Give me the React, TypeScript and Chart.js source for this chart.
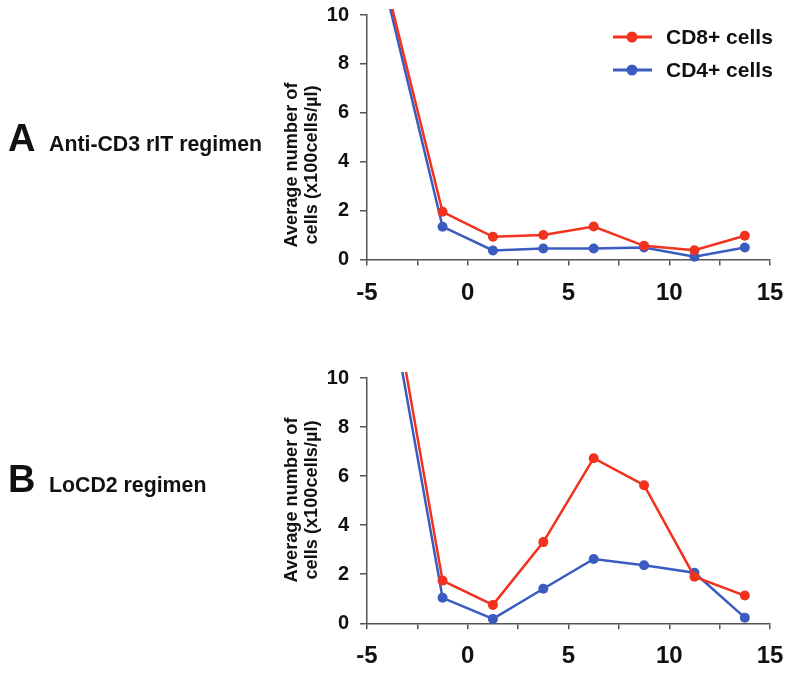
import React, { useEffect, useRef } from "react";
import { Chart, registerables } from "chart.js";
Chart.register(...registerables);

// ---- data ----
const X_DAYS = [-6.25, -1.25, 1.25, 3.75, 6.25, 8.75, 11.25, 13.75];
const A_CD8 = [18.6, 1.95, 0.93, 1.0, 1.35, 0.56, 0.38, 0.97];
const A_CD4 = [18.5, 1.34, 0.37, 0.45, 0.45, 0.49, 0.11, 0.49];
const B_CD8 = [25.2, 1.74, 0.75, 3.31, 6.73, 5.63, 1.9, 1.13];
const B_CD4 = [24.1, 1.04, 0.18, 1.41, 2.62, 2.37, 2.06, 0.23];
const SERIES_NAMES = ["CD8+ cells", "CD4+ cells"];
const X_LABELED_TICKS = [-5, 0, 5, 10, 15];
const PANEL_LETTERS = ["A", "B"];
const PANEL_TITLES = ["Anti-CD3 rIT regimen", "LoCD2 regimen"];
const Y_TITLE = ["Average number of", "cells (x100cells/µl)"];

const RED = "#f0321f";
const BLUE = "#3a5cc0";
const AXIS = "#555555";
const FONT = "'Liberation Sans', Arial, Helvetica, sans-serif";

type PanelCfg = {
  idx: number;
  cd8: number[];
  cd4: number[];
  height: number;
  padBottom: number;
  labelBaseline: number;
  yTitleCenter: number;
  legend: boolean;
};

function toPts(vals: number[]) {
  return X_DAYS.map((x, i) => ({ x, y: vals[i] }));
}

function makeChart(canvas: HTMLCanvasElement, p: PanelCfg) {
  const decor = {
    id: "decor" + p.idx,
    afterDraw(chart: any) {
      const ctx = chart.ctx as CanvasRenderingContext2D;
      ctx.save();
      ctx.fillStyle = "#111";
      ctx.textBaseline = "alphabetic";
      ctx.textAlign = "left";
      ctx.font = `bold 38px ${FONT}`;
      ctx.fillText(PANEL_LETTERS[p.idx], 8, p.labelBaseline);
      ctx.font = `bold 21.3px ${FONT}`;
      ctx.fillText(PANEL_TITLES[p.idx], 49, p.labelBaseline);

      // y-axis title (two rotated lines)
      ctx.font = `bold 18.2px ${FONT}`;
      ctx.textAlign = "center";
      ctx.textBaseline = "middle";
      const xs = [292, 312];
      Y_TITLE.forEach((t, i) => {
        ctx.save();
        ctx.translate(xs[i], p.yTitleCenter);
        ctx.rotate(-Math.PI / 2);
        ctx.fillText(t, 0, 0);
        ctx.restore();
      });

      if (p.legend) {
        const colors = [RED, BLUE];
        const ys = [37, 70];
        SERIES_NAMES.forEach((name, i) => {
          ctx.strokeStyle = colors[i];
          ctx.lineWidth = 3;
          ctx.beginPath();
          ctx.moveTo(613, ys[i]);
          ctx.lineTo(652, ys[i]);
          ctx.stroke();
          ctx.fillStyle = colors[i];
          ctx.beginPath();
          ctx.arc(632, ys[i], 5.5, 0, Math.PI * 2);
          ctx.fill();
          ctx.fillStyle = "#111";
          ctx.textAlign = "left";
          ctx.textBaseline = "middle";
          ctx.font = `bold 21px ${FONT}`;
          ctx.fillText(name, 666, ys[i] + 1);
        });
      }
      ctx.restore();
    },
  };

  const ds = (label: string, vals: number[], color: string) => ({
    label,
    data: toPts(vals),
    borderColor: color,
    backgroundColor: color,
    pointBackgroundColor: color,
    pointBorderColor: color,
    pointBorderWidth: 0,
    pointRadius: 5,
    borderWidth: 2.5,
    tension: 0,
    clip: { left: 0, top: 6, right: 10, bottom: 10 },
  });

  return new Chart(canvas, {
    type: "line",
    data: {
      datasets: [ds(SERIES_NAMES[0], p.cd8, RED), ds(SERIES_NAMES[1], p.cd4, BLUE)],
    },
    options: {
      animation: false,
      responsive: false,
      devicePixelRatio: 1,
      layout: { padding: { left: 275, right: 30, top: 15, bottom: p.padBottom } },
      plugins: { legend: { display: false }, tooltip: { enabled: false } },
      scales: {
        x: {
          type: "linear",
          min: -5,
          max: 15,
          afterFit: (s: any) => {
            s.height = 45;
            s.paddingLeft = 0;
            s.paddingRight = 0;
          },
          ticks: {
            stepSize: 2.5,
            autoSkip: false,
            maxRotation: 0,
            padding: 13,
            color: "#111",
            font: { family: FONT, size: 24, weight: "bold" },
            callback: (v: any) => (X_LABELED_TICKS.includes(Number(v)) ? String(v) : ""),
          },
          grid: { drawOnChartArea: false, drawTicks: true, tickLength: 6, color: AXIS, lineWidth: 1.5 },
          border: { display: true, color: AXIS, width: 1.5 },
        },
        y: {
          type: "linear",
          min: 0,
          max: 10,
          afterFit: (s: any) => {
            s.width = 92;
            s.paddingTop = 0;
            s.paddingBottom = 0;
          },
          ticks: {
            stepSize: 2,
            padding: 11,
            color: "#111",
            font: { family: FONT, size: 20, weight: "bold" },
          },
          grid: { drawOnChartArea: false, drawTicks: true, tickLength: 7, color: AXIS, lineWidth: 1.5 },
          border: { display: true, color: AXIS, width: 1.5 },
        },
      },
    },
    plugins: [decor],
  } as any);
}

function Panel({ p, top }: { p: PanelCfg; top: number }) {
  const ref = useRef<HTMLCanvasElement | null>(null);
  useEffect(() => {
    if (!ref.current) return;
    const c = makeChart(ref.current, p);
    return () => c.destroy();
  }, []);
  return (
    <canvas
      ref={ref}
      width={800}
      height={p.height}
      style={{ position: "absolute", left: 0, top, width: 800, height: p.height }}
    />
  );
}

const PANEL_A: PanelCfg = {
  idx: 0,
  cd8: A_CD8,
  cd4: A_CD4,
  height: 363,
  padBottom: 58.5,
  labelBaseline: 151,
  yTitleCenter: 165,
  legend: true,
};
const PANEL_B: PanelCfg = {
  idx: 1,
  cd8: B_CD8,
  cd4: B_CD4,
  height: 311,
  padBottom: 5.7,
  labelBaseline: 129,
  yTitleCenter: 137,
  legend: false,
};

export default function App() {
  return (
    <div style={{ position: "absolute", left: 0, top: 0, width: 800, height: 674, background: "#fff" }}>
      <Panel p={PANEL_A} top={0} />
      <Panel p={PANEL_B} top={363} />
    </div>
  );
}
